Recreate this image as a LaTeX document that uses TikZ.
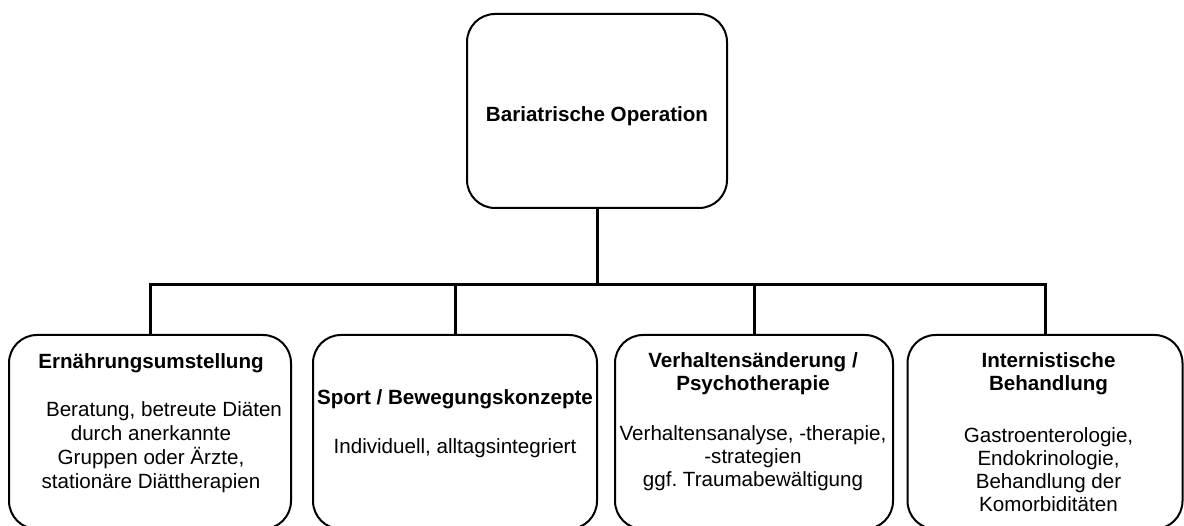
\documentclass[tikz,border=0pt]{standalone}
\usepackage{fontspec}
\setmainfont{Liberation Sans}
\usetikzlibrary{trees}

\tikzset{
  box/.style={draw, line width=2pt, rounded corners=28pt, fill=white,
    minimum width=280pt, minimum height=194pt, inner sep=0pt, outer sep=0pt,
    font=\fontsize{20.6}{23}\selectfont},
  boxtext/.style={align=center, inner sep=0pt, font=\fontsize{20.6}{23}\selectfont\frenchspacing}
}

\begin{document}
\begin{tikzpicture}[x=1pt, y=1pt,
  level distance=321pt, sibling distance=298pt,
  edge from parent/.style={draw, line width=3pt},
  edge from parent path={(\tikzparentnode.south) -- ++(0,-77) -| (\tikzchildnode.north)}]
  \useasboundingbox (0,-526) rectangle (1184,0);

  \node[box, minimum width=260pt] (op) at (597,-111) {\raisebox{-5pt}[\height][\depth]{\textbf{Bariatrische Operation}}}
    child { node[box, minimum width=282pt] (ern) {} }
    child[xshift=7pt] { node[box, minimum width=284pt] (sport) {} }
    child[xshift=8pt] { node[box, minimum width=278pt] (verh) {} }
    child[xshift=1pt] { node[box, minimum width=275pt] (intern) {} };

  % texts in the boxes
  \node[boxtext, font=\fontsize{20.6}{24}\selectfont] (ernText) at ([shift={(1,8.5)}]ern.center)
    {\textbf{Ernährungsumstellung}\\[24pt]\hspace*{26pt}Beratung, betreute Diäten\\durch anerkannte\\Gruppen oder Ärzte,\\stationäre Diättherapien};
  \node[boxtext] (sportText) at ([shift={(0,8.5)}]sport.center)
    {\textbf{Sport / Bewegungskonzepte}\\[26pt]Individuell, alltagsintegriert};
  \node[boxtext] (verhText) at ([shift={(-1,10)}]verh.center)
    {\textbf{Verhaltensänderung /}\\\textbf{Psychotherapie}\\[27pt]Verhaltensanalyse, -therapie,\\-strategien\\ggf. Traumabewältigung};
  \node[boxtext] (internText) at ([shift={(3.5,-0.5)}]intern.center)
    {\textbf{Internistische}\\\textbf{Behandlung}\\[29pt]Gastroenterologie,\\Endokrinologie,\\Behandlung der\\Komorbiditäten};
\end{tikzpicture}
\end{document}
